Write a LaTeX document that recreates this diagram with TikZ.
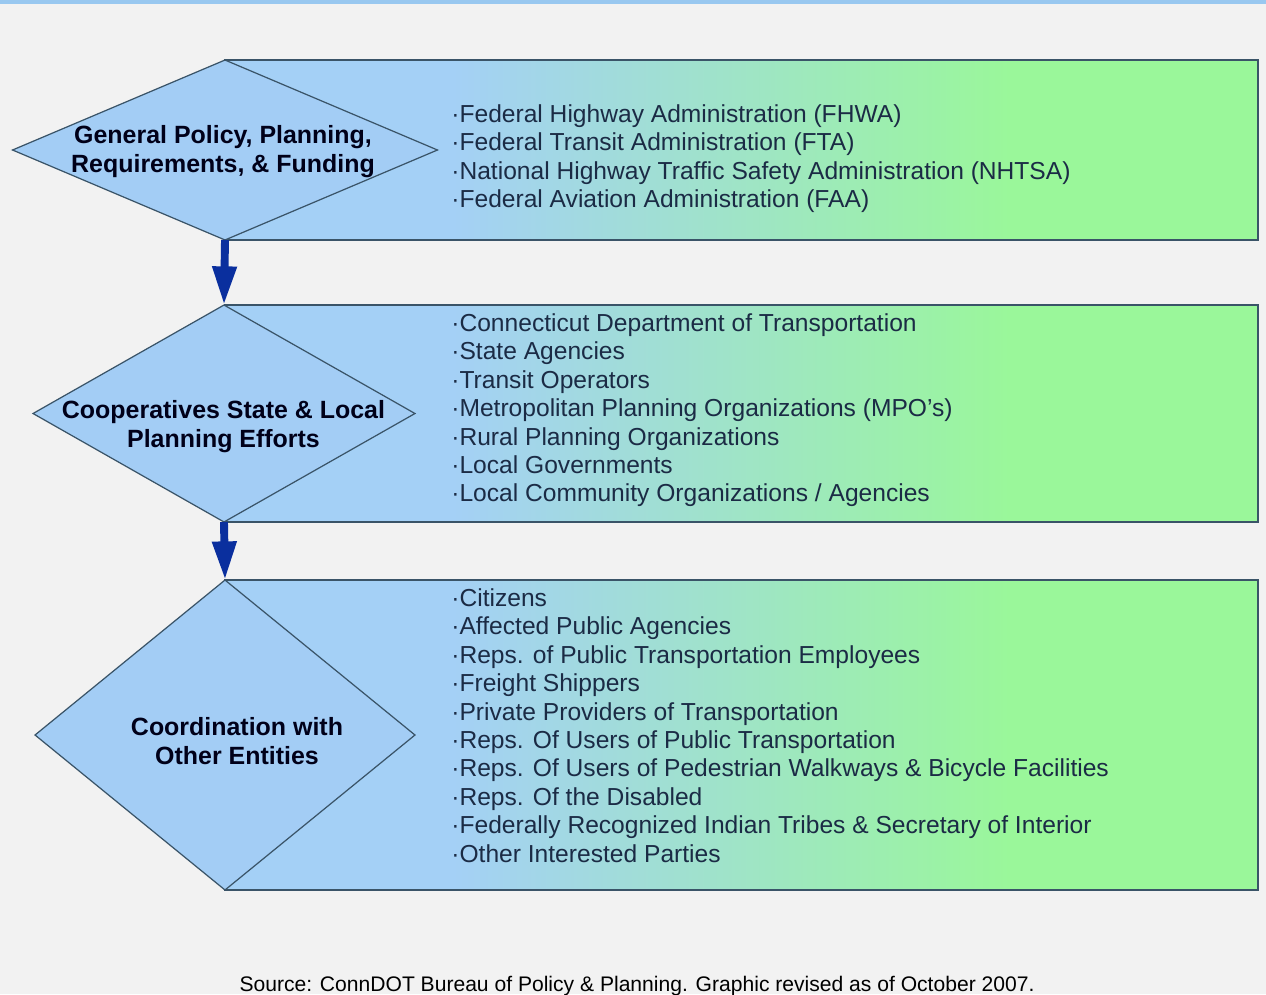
\documentclass[tikz,border=0pt]{standalone}
\usepackage{fontspec}
\setmainfont{Liberation Sans}
\usepackage{tikz}
\usetikzlibrary{shapes.geometric,arrows.meta}

\definecolor{boxblue}{RGB}{164,208,246}
\definecolor{boxgreen}{RGB}{154,247,154}
\definecolor{diafill}{RGB}{163,205,245}
\definecolor{edgecol}{RGB}{58,84,104}
\definecolor{listtext}{RGB}{27,43,69}
\definecolor{arrowblue}{RGB}{10,47,158}
\definecolor{backgr}{RGB}{242,242,242}
\definecolor{topstrip}{RGB}{153,200,240}
\pgfdeclarehorizontalshading{boxfade}{100bp}{color(0bp)=(boxblue); color(36bp)=(boxblue); color(63bp)=(boxgreen); color(100bp)=(boxgreen)}

\begin{document}
\begin{tikzpicture}[x=0.02cm,y=-0.02cm,
    list_box/.style={rectangle,draw=edgecol,line width=0.8pt,shade,shading=boxfade,anchor=north west,minimum width=20.66cm,inner sep=0pt,outer sep=0pt},
    stage_node/.style={diamond,draw=edgecol,line width=0.7pt,fill=diafill,inner sep=0pt,outer sep=0pt},
    stage_text/.style={align=center,text=black!90!blue,font=\fontsize{14.2}{16.4}\selectfont\bfseries},
    list_text/.style={align=left,anchor=north west,inner sep=0pt,text=listtext,font=\fontsize{14}{16.2}\selectfont},
    flow_arrow/.style={draw=arrowblue,line width=4.5pt,-{Triangle[width=13pt,length=22pt]}}]

    \fill[backgr] (0,0) rectangle (1266,994);
    \useasboundingbox (0,0) rectangle (1266,994);
    \fill[topstrip] (0,0) rectangle (1266,4);

    \node[list_box, minimum height=3.6cm]  (b1) at (225,60)  {};
    \node[list_box, minimum height=4.34cm] (b2) at (225,305) {};
    \node[list_box, minimum height=6.2cm]  (b3) at (225,580) {};

    \node[stage_node, minimum width=8.5cm,  minimum height=3.6cm]  (d1) at (225,150)   {};
    \node[stage_node, minimum width=7.64cm, minimum height=4.34cm] (d2) at (224,413.5) {};
    \node[stage_node, minimum width=7.6cm,  minimum height=6.2cm]  (d3) at (225,735)   {};

    \node[stage_text] (t1) at (223,152) {General Policy, Planning,\\Requirements, \& Funding};
    \node[stage_text] (t2) at (223.5,427) {Cooperatives State \& Local\\Planning Efforts};
    \node[stage_text] (t3) at (237,741) {Coordination with\\Other Entities};

    \node[list_text] (l1) at (451,104) {·Federal Highway Administration (FHWA)\\
        ·Federal Transit Administration (FTA)\\
        ·National Highway Traffic Safety Administration (NHTSA)\\
        ·Federal Aviation Administration (FAA)};
    \node[list_text] (l2) at (451,313) {·Connecticut Department of Transportation\\
        ·State Agencies\\
        ·Transit Operators\\
        ·Metropolitan Planning Organizations (MPO's)\\
        ·Rural Planning Organizations\\
        ·Local Governments\\
        ·Local Community Organizations / Agencies};
    \node[list_text] (l3) at (451,588) {·Citizens\\
        ·Affected Public Agencies\\
        ·Reps. of Public Transportation Employees\\
        ·Freight Shippers\\
        ·Private Providers of Transportation\\
        ·Reps. Of Users of Public Transportation\\
        ·Reps. Of Users of Pedestrian Walkways \& Bicycle Facilities\\
        ·Reps. Of the Disabled\\
        ·Federally Recognized Indian Tribes \& Secretary of Interior\\
        ·Other Interested Parties};

    \draw[flow_arrow] (d1.south) -- (d2.north);
    \draw[flow_arrow] (d2.south) -- (d3.north);

    \node[anchor=base,font=\fontsize{12}{14}\selectfont] (src) at (637,991) {Source: ConnDOT Bureau of Policy \& Planning. Graphic revised as of October 2007.};

\end{tikzpicture}
\end{document}
